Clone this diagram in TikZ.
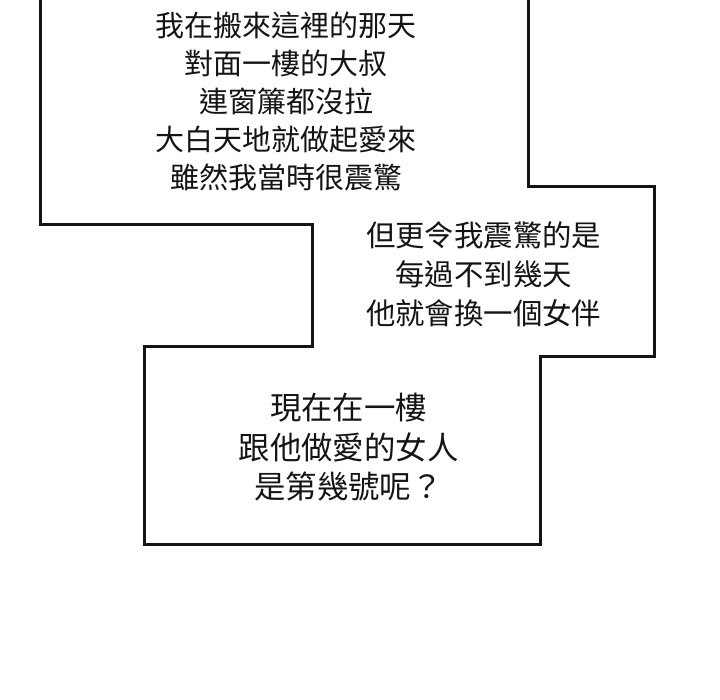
\documentclass[tikz,border=0pt]{standalone}
\usepackage{fontspec}
\newfontfamily\cjk{Noto Sans CJK TC}
\begin{document}
\begin{tikzpicture}[x=1pt,y=-1pt,
  outline/.style={line width=3pt, draw=black!92, line join=miter},
  caption/.style={font=\cjk, align=center, inner sep=0pt, text=black!92}]
\useasboundingbox[fill=white] (0,0) rectangle (720,700);
\draw[outline] (40.7,-2) -- (40.7,224.7) -- (312.7,224.7) -- (312.7,347) -- (144.7,347)
  -- (144.7,544) -- (540,544) -- (540,356.7) -- (654,356.7) -- (654,186.7) -- (528,186.7) -- (528,-2);
\node[caption, font=\cjk\fontsize{29}{38}\selectfont] (t1) at (286,101.5) {我在搬來這裡的那天\\對面一樓的大叔\\連窗簾都沒拉\\大白天地就做起愛來\\雖然我當時很震驚};
\node[caption, font=\cjk\fontsize{29.4}{39}\selectfont] (t2) at (483.7,274.5) {但更令我震驚的是\\每過不到幾天\\他就會換一個女伴};
\node[caption, font=\cjk\fontsize{31.4}{39.5}\selectfont] (t3) at (348.5,447.5) {現在在一樓\\跟他做愛的女人\\是第幾號呢？};
\end{tikzpicture}
\end{document}
